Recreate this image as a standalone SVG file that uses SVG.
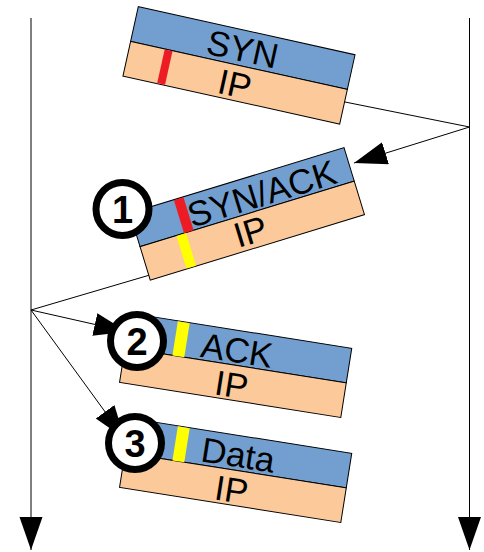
<svg xmlns="http://www.w3.org/2000/svg" width="484" height="552" viewBox="0 0 484 552">
  <defs>
    <marker id="arrow" markerUnits="userSpaceOnUse" markerWidth="34" markerHeight="24" refX="33" refY="11.5" orient="auto">
      <path d="M0,0 L33,11.5 L0,23 z" fill="#000"/>
    </marker>
  </defs>
  <style>
    .hdr { fill: #729fcf; stroke: #000; stroke-width: 1; }
    .ip { fill: #fbc99a; stroke: #000; stroke-width: 1; }
    .red { fill: #ed1c24; }
    .yel { fill: #ffff00; }
    .lbl { font-family: "Liberation Sans", Arial, sans-serif; font-size: 35px; fill: #000; text-anchor: middle; }
    .line { stroke: #000; stroke-width: 1; fill: none; }
    .ring { fill: #fff; stroke: #000; stroke-width: 7; }
    .num { font-family: "Liberation Sans", Arial, sans-serif; font-size: 38px; font-weight: bold; fill: #000; text-anchor: middle; }
  </style>

  <!-- timelines and message paths -->
  <g id="connectors">
    <line class="line" x1="31" y1="18" x2="31" y2="550" marker-end="url(#arrow)"/>
    <line class="line" x1="469.5" y1="18" x2="469.5" y2="550" marker-end="url(#arrow)"/>
    <line class="line" x1="469.5" y1="127" x2="340" y2="101"/>
    <line class="line" x1="469.5" y1="127" x2="354" y2="163" marker-end="url(#arrow)"/>
    <line class="line" x1="31" y1="310" x2="160" y2="272"/>
    <line class="line" x1="31" y1="310" x2="127" y2="331.7" marker-end="url(#arrow)"/>
    <line class="line" x1="31" y1="310" x2="124.5" y2="438.5" marker-end="url(#arrow)"/>
  </g>

  <g id="syn" transform="translate(138.3,6.7) rotate(12.5)">
    <rect class="hdr" x="0" y="0" width="222" height="35.5"/>
    <rect class="ip" x="0" y="35.5" width="222" height="35.5"/>
    <rect class="red" x="35" y="36" width="8" height="34.5"/>
    <text class="lbl" x="111" y="31">SYN</text>
    <text class="lbl" x="111" y="67">IP</text>
  </g>

  <g id="synack" transform="translate(129.8,213.2) rotate(-17)">
    <rect class="hdr" x="0" y="0" width="224" height="35"/>
    <rect class="ip" x="0" y="35" width="224" height="35"/>
    <rect class="red" x="46" y="0.5" width="10" height="34.5"/>
    <rect class="yel" x="38" y="35.5" width="10" height="34"/>
    <text class="lbl" x="132" y="32">SYN/ACK</text>
    <text class="lbl" x="110" y="65">IP</text>
  </g>

  <g id="ack" transform="translate(130.5,313.3) rotate(9)">
    <rect class="hdr" x="0" y="0" width="224" height="35"/>
    <rect class="ip" x="0" y="35" width="224" height="35"/>
    <rect class="yel" x="48" y="0.5" width="12" height="34.5"/>
    <text class="lbl" x="111" y="32">ACK</text>
    <text class="lbl" x="111" y="67">IP</text>
  </g>

  <g id="data" transform="translate(130.5,418.3) rotate(9)">
    <rect class="hdr" x="0" y="0" width="224" height="35"/>
    <rect class="ip" x="0" y="35" width="224" height="35"/>
    <rect class="yel" x="48" y="0.5" width="12" height="34.5"/>
    <text class="lbl" x="112" y="31.5">Data</text>
    <text class="lbl" x="111" y="67">IP</text>
  </g>

  <g id="step1">
    <circle class="ring" cx="122.5" cy="209" r="26.5"/>
    <text class="num" x="122.5" y="222.5">1</text>
  </g>
  <g id="step2">
    <circle class="ring" cx="137" cy="341" r="26.5"/>
    <text class="num" x="137" y="354.5">2</text>
  </g>
  <g id="step3">
    <circle class="ring" cx="135" cy="443" r="26.5"/>
    <text class="num" x="135" y="456.5">3</text>
  </g>
</svg>
